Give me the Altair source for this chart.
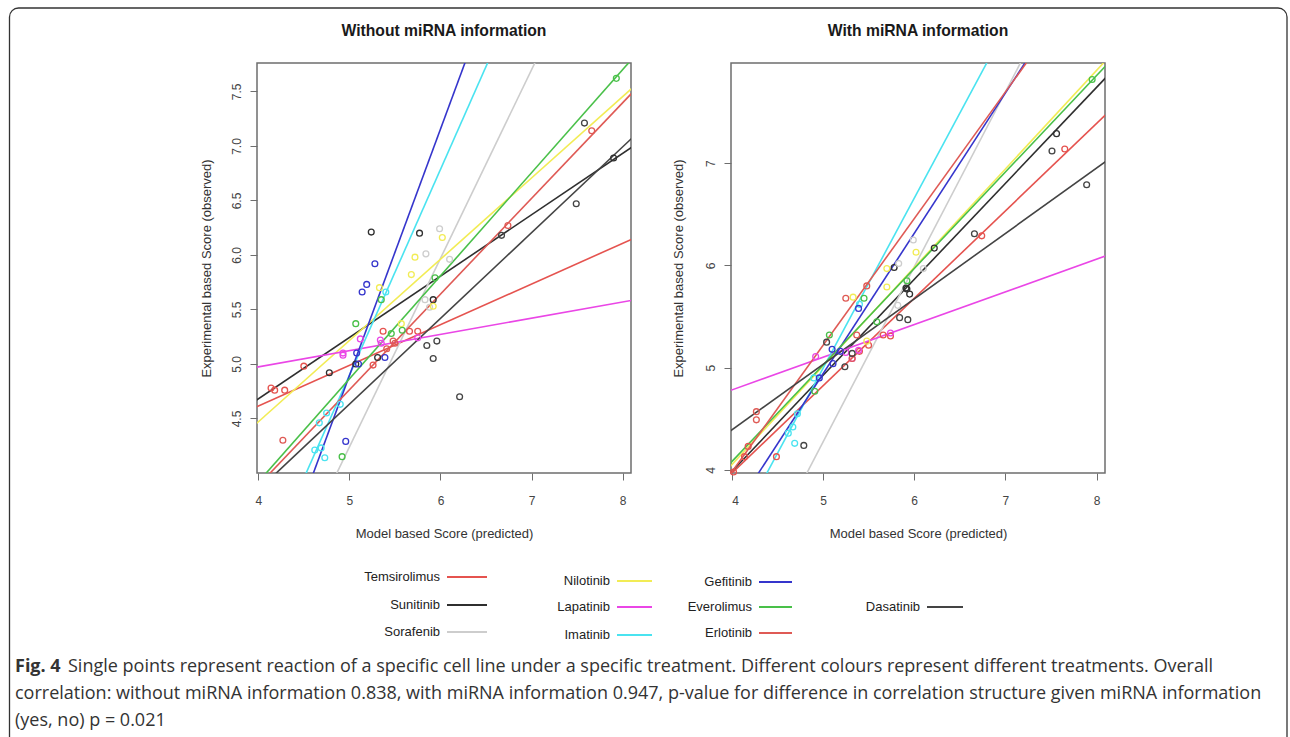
import altair as alt
import numpy as np
import pandas as pd

# ---------------- data ----------------
DRUGS = ["Temsirolimus", "Sunitinib", "Sorafenib", "Nilotinib", "Lapatinib",
         "Imatinib", "Gefitinib", "Everolimus", "Erlotinib", "Dasatinib"]
COLORS = ["#e5534f", "#2f2f2f", "#cdcdcd", "#f2ec55", "#ea46e6",
          "#4ae3f0", "#3535cc", "#49c049", "#df5a55", "#444444"]

# regression lines: fitted value at x = 4 and slope
LEFT_B0 = [4.615, 4.680, 2.507, 4.469, 4.973, 3.007, 2.631, 3.917, 3.885, 3.844]
LEFT_B1 = [0.373, 0.563, 1.731, 0.746, 0.149, 1.889, 2.262, 0.946, 0.878, 0.787]
RIGHT_B0 = [3.967, 3.984, 2.558, 4.050, 4.782, 3.328, 3.566, 4.080, 3.978, 4.391]
RIGHT_B1 = [0.856, 0.940, 1.714, 0.965, 0.320, 1.665, 1.374, 0.945, 1.240, 0.641]

# observed vs predicted points (without miRNA information)
LEFT_X = {
    "Temsirolimus": [4.14, 4.18, 4.29, 4.50, 5.26, 5.37, 5.66, 5.75],
    "Erlotinib": [4.27, 5.41, 5.48, 5.50, 6.74, 7.66],
    "Sunitinib": [4.78, 5.31, 5.24, 5.77, 7.90, 5.92, 5.07],
    "Dasatinib": [6.67, 7.58, 7.49, 5.85, 5.96, 5.92, 6.21],
    "Gefitinib": [5.28, 5.19, 5.14, 5.08, 5.39, 4.96, 5.10],
    "Imatinib": [5.40, 4.62, 4.69, 4.73, 4.67, 4.75, 4.90],
    "Everolimus": [7.93, 5.07, 5.35, 5.46, 5.58, 5.94, 4.92],
    "Nilotinib": [6.02, 5.72, 5.68, 5.33, 5.92, 5.57],
    "Sorafenib": [5.99, 5.84, 6.10, 5.83, 5.88],
    "Lapatinib": [5.12, 5.34, 5.35, 4.93, 4.93, 5.75],
}
LEFT_Y = {
    "Temsirolimus": [4.78, 4.76, 4.76, 4.98, 4.99, 5.30, 5.30, 5.30],
    "Erlotinib": [4.30, 5.14, 5.21, 5.19, 6.27, 7.14],
    "Sunitinib": [4.92, 5.06, 6.21, 6.20, 6.89, 5.59, 5.00],
    "Dasatinib": [6.18, 7.21, 6.47, 5.17, 5.21, 5.05, 4.70],
    "Gefitinib": [5.92, 5.73, 5.66, 5.10, 5.06, 4.29, 5.00],
    "Imatinib": [5.66, 4.21, 4.23, 4.14, 4.46, 4.55, 4.63],
    "Everolimus": [7.62, 5.37, 5.59, 5.28, 5.31, 5.79, 4.15],
    "Nilotinib": [6.16, 5.98, 5.82, 5.70, 5.53, 5.37],
    "Sorafenib": [6.24, 6.01, 5.96, 5.59, 5.52],
    "Lapatinib": [5.23, 5.22, 5.19, 5.10, 5.08, 5.24],
}
# observed vs predicted points (with miRNA information)
RIGHT_X = {
    "Temsirolimus": [4.14, 4.18, 4.02, 4.49, 5.40, 5.50, 5.66, 5.74, 6.74, 7.65],
    "Erlotinib": [4.27, 4.27, 5.25, 5.48, 5.37, 5.32],
    "Sunitinib": [7.56, 5.78, 5.92, 5.95, 5.91, 6.22],
    "Dasatinib": [7.51, 7.89, 6.66, 5.84, 5.93, 5.04, 5.24, 5.32, 4.79],
    "Gefitinib": [5.39, 5.10, 5.11, 4.96, 5.19],
    "Imatinib": [4.62, 4.67, 4.69, 4.72, 4.90, 5.40],
    "Everolimus": [7.95, 5.92, 5.45, 5.59, 5.07, 4.91],
    "Nilotinib": [6.02, 5.70, 5.70, 5.33, 5.48],
    "Sorafenib": [5.99, 5.83, 6.10, 5.82],
    "Lapatinib": [4.92, 5.32, 5.39, 5.74, 5.25],
}
RIGHT_Y = {
    "Temsirolimus": [4.13, 4.23, 3.98, 4.13, 5.16, 5.22, 5.32, 5.31, 6.29, 7.14],
    "Erlotinib": [4.57, 4.49, 5.68, 5.80, 5.32, 5.09],
    "Sunitinib": [7.29, 5.98, 5.77, 5.72, 5.78, 6.17],
    "Dasatinib": [7.12, 6.79, 6.31, 5.49, 5.47, 5.25, 5.01, 5.14, 4.24],
    "Gefitinib": [5.58, 5.18, 5.04, 4.90, 5.16],
    "Imatinib": [4.36, 4.42, 4.26, 4.55, 4.90, 5.62],
    "Everolimus": [7.82, 5.85, 5.68, 5.45, 5.32, 4.77],
    "Nilotinib": [6.13, 5.97, 5.79, 5.69, 5.26],
    "Sorafenib": [6.25, 6.02, 5.97, 5.61],
    "Lapatinib": [5.11, 5.09, 5.17, 5.34, 5.15],
}

X_TICKS = [4, 5, 6, 7, 8]
LEFT_Y_TICKS = [4.5, 5.0, 5.5, 6.0, 6.5, 7.0, 7.5]
RIGHT_Y_TICKS = [4, 5, 6, 7]

TITLE_LEFT = "Without miRNA information"
TITLE_RIGHT = "With miRNA information"
X_TITLE = "Model based Score (predicted)"
Y_TITLE = "Experimental based Score (observed)"

LEGEND_COL = [0, 0, 0, 1, 1, 1, 2, 2, 2, 3]
LEGEND_ROW = [0, 1, 2, 0, 1, 2, 0, 1, 2, 1]

CAPTION_BOLD = "Fig. 4"
CAPTION_LINES = [
    "Single points represent reaction of a specific cell line under a specific treatment. Different colours represent different treatments. Overall",
    "correlation: without miRNA information 0.838, with miRNA information 0.947, p-value for difference in correlation structure given miRNA information",
    "(yes, no) p = 0.021",
]

# ---------------- layout ----------------
W, H = 374, 410
OX, OY = 257, 63          # page position of left plot area
LEG_TEXT_RIGHT = [440, 610, 752, 920]
LEG_LINE_LEN = [40, 35, 33, 36]
LEG_ROW_Y = [[577, 605, 632], [581, 607, 635], [582, 607, 633], [607, 607, 607]]
CAP_X = [68, 15, 15]
CAP_Y = [667, 694, 721]

color_scale = alt.Scale(domain=DRUGS, range=COLORS)


def line_frame(b0, b1):
    rows = []
    for d, a, b in zip(DRUGS, b0, b1):
        for x in (3.5, 8.6):
            rows.append({"drug": d, "x": x, "y": a + b * (x - 4)})
    return pd.DataFrame(rows)


def point_frame(xs, ys):
    rows = []
    for d in DRUGS:
        for x, y in zip(xs[d], ys[d]):
            rows.append({"drug": d, "x": x, "y": y})
    return pd.DataFrame(rows)


def panel(lines, pts, xdom, ydom, yticks, yfmt, title_x, title):
    xsc = alt.Scale(domain=xdom, nice=False, zero=False)
    ysc = alt.Scale(domain=ydom, nice=False, zero=False)
    xaxis = alt.Axis(values=X_TICKS, format="d", title=X_TITLE,
                     labelBaseline="middle", labelPadding=20,
                     titleX=W / 2, titleY=60, titleAlign="center",
                     titleBaseline="middle")
    yaxis = alt.Axis(values=yticks, format=yfmt, title=Y_TITLE,
                     labelAngle=270, labelAlign="center", labelBaseline="middle",
                     labelPadding=14, titleX=title_x, titleY=H / 2,
                     titleAngle=270, titleAlign="center", titleBaseline="middle")
    color = alt.Color("drug:N", scale=color_scale, legend=None)
    ln = alt.Chart(lines).mark_line(clip=True, strokeWidth=1.6).encode(
        x=alt.X("x:Q", scale=xsc, axis=xaxis),
        y=alt.Y("y:Q", scale=ysc, axis=yaxis),
        color=color, detail="drug:N")
    pt = alt.Chart(pts).mark_point(shape="circle", filled=False, size=34,
                                   strokeWidth=1.3, opacity=1).encode(
        x="x:Q", y="y:Q", color=color)
    ttl = alt.Chart(pd.DataFrame({"t": [title]})).mark_text(
        font="Liberation Sans", fontSize=15.7, fontWeight="bold",
        color="#1a1a1a", align="center", baseline="middle").encode(
        x=alt.value(W / 2), y=alt.value(-31.6), text="t:N")
    return [ln, pt, ttl]


# legend table
leg = pd.DataFrame({"drug": DRUGS, "col": LEGEND_COL, "row": LEGEND_ROW})
leg["tx"] = [LEG_TEXT_RIGHT[c] - OX for c in leg["col"]]
leg["lx1"] = [LEG_TEXT_RIGHT[c] + 7 - OX for c in leg["col"]]
leg["lx2"] = [LEG_TEXT_RIGHT[c] + 7 + LEG_LINE_LEN[c] - OX for c in leg["col"]]
leg["ty"] = [LEG_ROW_Y[c][r] - OY for c, r in zip(leg["col"], leg["row"])]

leg_text = alt.Chart(leg).mark_text(
    font="Liberation Sans", fontSize=13, color="#222", align="right",
    baseline="middle").encode(
    x=alt.X("tx:Q", scale=None, axis=None),
    y=alt.Y("ty:Q", scale=None, axis=None), text="drug:N")
leg_rule = alt.Chart(leg).mark_rule(strokeWidth=2).encode(
    x=alt.X("lx1:Q", scale=None, axis=None), x2="lx2:Q",
    y=alt.Y("ty:Q", scale=None, axis=None),
    color=alt.Color("drug:N", scale=color_scale, legend=None))

cap = pd.DataFrame({"text": CAPTION_LINES,
                    "cx": [x - OX for x in CAP_X],
                    "cy": [y - OY for y in CAP_Y]})
cap_text = alt.Chart(cap).mark_text(
    font="Open Sans", fontSize=18, color="#333", align="left",
    baseline="middle").encode(
    x=alt.X("cx:Q", scale=None, axis=None),
    y=alt.Y("cy:Q", scale=None, axis=None), text="text:N")
cap_bold = alt.Chart(pd.DataFrame({"t": [CAPTION_BOLD]})).mark_text(
    font="Open Sans", fontSize=18, fontWeight="bold", color="#333",
    align="left", baseline="middle").encode(
    x=alt.value(15 - OX), y=alt.value(CAP_Y[0] - OY), text="t:N")

border = alt.Chart(pd.DataFrame({"b": [0]})).mark_rect(
    fillOpacity=0, stroke="#333", strokeWidth=1.3, cornerRadius=9).encode(
    x=alt.value(9.5 - OX), x2=alt.value(1287 - OX),
    y=alt.value(8 - OY), y2=alt.value(760 - OY))

left_layers = panel(line_frame(LEFT_B0, LEFT_B1), point_frame(LEFT_X, LEFT_Y),
                    [3.986, 8.091], [4.0, 7.761], LEFT_Y_TICKS, ".1f", -51,
                    TITLE_LEFT)
right_layers = panel(line_frame(RIGHT_B0, RIGHT_B1), point_frame(RIGHT_X, RIGHT_Y),
                     [3.992, 8.091], [3.970, 7.981], RIGHT_Y_TICKS, "d", -53,
                     TITLE_RIGHT)

left = alt.layer(*left_layers, leg_rule, leg_text, cap_bold, cap_text,
                 border).properties(width=W, height=H)
right = alt.layer(*right_layers).properties(width=W, height=H)

chart = alt.hconcat(left, right, spacing=100, bounds="flush").properties(
    padding={"left": 8, "top": 6, "right": 0, "bottom": 0}
).configure_view(
    stroke="#6e6e6e", strokeWidth=1.5
).configure_axis(
    domain=False, grid=False, tickColor="#6e6e6e", tickWidth=1, tickSize=7,
    labelFont="Liberation Sans", labelFontSize=12, labelColor="#444",
    titleFont="Liberation Sans", titleFontSize=13, titleFontWeight="normal",
    titleColor="#333"
)

chart.save("out.html", embed_options={"renderer": "svg", "actions": False})
